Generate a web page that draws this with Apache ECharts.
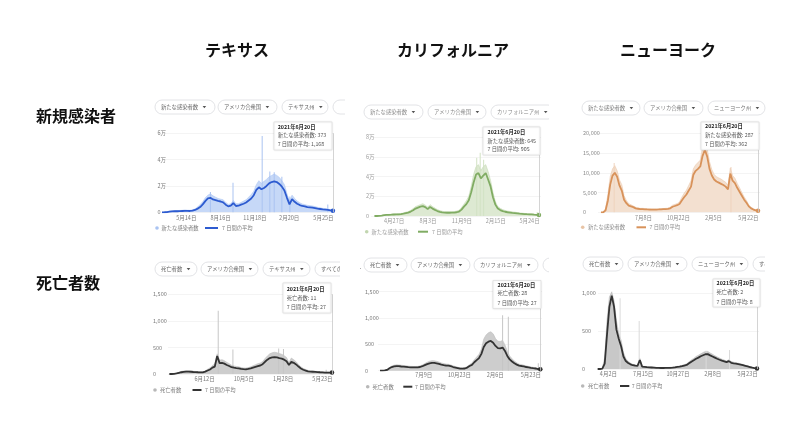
<!DOCTYPE html>
<html><head><meta charset="utf-8">
<script src="https://cdn.jsdelivr.net/npm/echarts@6/dist/echarts.min.js"></script>
<style>html,body{margin:0;padding:0;background:#fff}#c{width:800px;height:427px}</style>
</head><body><div id="c"></div>
<script>
const FONT = '"Noto Sans CJK JP","Noto Sans",sans-serif';

// Weekly points, starting 2020-03-01, last point 2021-06-20
const weekCount = 69;

// ---------- Texas, new cases (thousands) ----------
const txCasesAvg = [0,0,0.05,0.2,0.5,0.7,0.8,0.8,0.9,1.0,
 1.1,1.1,1.0,1.3,1.8,2.8,4.0,6.0,8.5,10.5,
 11.0,9.8,9.2,8.6,8.2,7.5,5.8,4.5,5.0,7.0,
 4.8,5.0,5.8,6.5,7.5,9.0,10.5,13.0,17.0,19.0,
 17.5,18.5,20.0,22.0,23.0,23.5,23.0,21.5,19.5,16.5,
 11.0,6.0,10.0,8.0,6.5,5.5,4.8,4.5,4.0,3.8,
 3.6,3.2,2.8,2.5,2.2,2.0,1.8,1.5,1.168];
const txCasesDaily = [0,0,0.1,0.4,0.9,1.1,1.2,1.3,1.4,1.5,
 1.8,1.6,1.5,1.9,2.6,4.0,6.0,8.0,11.0,13.0,
 14.0,12.5,11.5,10.5,10.0,9.5,7.5,6.0,6.5,9.0,
 6.5,6.5,7.5,8.5,9.5,11.5,13.5,16.0,21.0,24.0,
 22.0,23.5,25.0,27.0,28.0,29.0,28.0,26.5,24.0,21.0,
 14.0,8.5,13.0,10.5,8.5,7.2,6.3,5.8,5.3,5.0,
 4.8,4.3,3.8,3.4,3.0,2.8,2.5,2.0,0.373];
const txCasesSpikes = [['2020-07-19',15.5],['2020-09-19',22.5],['2020-12-08',58],['2020-12-29',31],['2021-01-10',30.5],['2021-01-31',27],['2021-02-22',12],['2021-06-06',6]];
const txCasesTicks = ['2020-05-14','2020-08-16','2020-11-18','2021-02-20','2021-05-25'];

// ---------- California, new cases (thousands) ----------
const caCasesAvg = [0,0,0.1,0.4,0.8,1.1,1.2,1.3,1.5,1.6,
 1.7,1.9,2.3,3.0,3.5,4.5,5.8,7.5,8.5,9.5,
 10.0,9.0,7.0,9.2,7.5,6.2,5.0,4.2,3.7,3.4,
 3.3,3.3,3.4,3.5,3.8,4.5,6.5,9.5,12.0,16.0,
 24.0,34.0,42.0,43.5,38.0,41.0,43.5,37.0,30.0,19.0,
 11.5,7.5,6.0,5.0,4.3,3.8,3.5,3.2,3.0,2.7,
 2.4,2.2,2.0,1.8,1.7,1.6,1.3,1.1,0.905];
const caCasesDaily = [0,0.05,0.2,0.6,1.1,1.5,1.6,1.8,2.0,2.1,
 2.3,2.6,3.0,3.9,4.5,5.8,7.5,9.5,10.5,11.5,
 12.5,11.0,9.0,11.5,9.5,8.0,6.5,5.5,4.8,4.4,
 4.3,4.3,4.4,4.5,5.0,5.8,8.5,12.0,15.5,20.0,
 30.0,42.0,50.0,52.0,46.0,50.0,52.0,45.0,36.0,24.0,
 14.5,9.5,7.8,6.5,5.6,5.0,4.6,4.2,3.9,3.5,
 3.1,2.9,2.6,2.4,2.2,2.1,1.8,1.5,0.645];
const caCasesSpikes = [['2020-12-22',59],['2021-01-01',64],['2021-01-11',57],['2021-06-15',4]];
const caCasesTicks = ['2020-04-27','2020-08-03','2020-11-09','2021-02-15','2021-05-24'];

// ---------- New York, new cases (thousands) ----------
const nyCasesAvg = [0,0,0.5,3.0,7.0,9.3,10.0,9.0,6.8,5.5,
 3.2,2.3,1.7,1.5,1.3,1.0,0.9,0.8,0.8,0.75,
 0.72,0.7,0.7,0.68,0.7,0.72,0.75,0.78,0.8,0.85,
 1.0,1.4,1.6,1.8,2.1,3.0,3.8,4.5,5.5,6.5,
 9.5,10.5,11.0,11.6,14.3,15.8,14.1,11.0,9.3,8.3,
 7.8,7.5,7.2,6.9,6.5,5.8,9.8,8.0,7.4,6.2,
 5.2,4.2,3.2,2.4,1.5,1.0,0.7,0.5,0.362];
const nyCasesDaily = [0,0,1.0,4.5,9.0,11.0,11.8,10.5,8.2,7.0,
 4.2,3.0,2.2,1.9,1.6,1.3,1.1,1.0,1.0,0.95,
 0.9,0.9,0.85,0.85,0.85,0.9,0.9,0.95,1.0,1.05,
 1.3,1.8,2.0,2.2,2.6,3.8,4.8,5.6,6.8,8.0,
 11.0,12.0,12.6,13.2,16.5,17.5,16.0,12.8,10.8,9.6,
 9.0,8.7,8.4,8.0,7.6,6.8,11.2,9.3,8.6,7.3,
 6.2,5.0,3.9,3.0,1.9,1.3,0.9,0.65,0.287];
const nyCasesSpikes = [['2020-04-10',12.5],['2021-03-30',11.5]];
const nyCasesTicks = ['2020-07-08','2020-10-22','2021-02-05','2021-05-22'];

// ---------- Texas, deaths ----------
const txDeathsAvg = [0,0,3,10,22,33,40,44,44,42,
 38,36,33,31,31,45,65,85,120,140,
 340,205,210,195,170,150,128,118,110,105,
 95,90,88,95,105,120,135,150,160,185,
 230,270,300,312,315,312,300,290,270,240,
 170,228,210,180,140,105,80,65,50,44,
 42,40,37,33,30,26,25,27,27];
const txDeathsDaily = [0,0,5,15,32,48,58,62,60,56,
 52,48,44,42,42,60,90,115,160,190,
 380,260,270,250,220,195,165,150,142,135,
 122,115,112,120,135,155,175,195,205,235,
 290,340,380,400,410,400,385,370,345,310,
 215,300,270,230,180,135,105,85,68,58,
 55,52,48,43,40,35,33,35,11];
const txDeathsSpikes = [['2020-07-22',1190],['2020-09-03',460],['2021-01-15',480],['2021-01-29',470],['2021-06-03',80]];
const txDeathsTicks = ['2020-06-12','2020-10-05','2021-01-28','2021-05-23'];

// ---------- California, deaths ----------
const caDeathsAvg = [0,0,5,15,45,70,80,88,85,80,
 76,72,67,63,62,62,63,70,85,105,
 125,140,150,148,139,128,114,105,98,95,
 85,70,60,50,40,38,42,60,90,110,
 160,200,240,320,450,520,551,565,532,470,
 430,425,440,375,280,215,175,140,115,95,
 89,80,70,63,55,48,42,32,27];
const caDeathsDaily = [0,0,8,22,60,90,105,112,110,104,
 98,94,88,82,80,80,82,92,110,135,
 160,180,190,188,178,165,148,136,126,122,
 110,92,80,66,54,52,58,80,118,145,
 210,260,310,410,600,680,720,740,700,610,
 560,555,575,490,365,280,228,182,150,124,
 116,104,92,82,72,63,55,42,28];
const caDeathsSpikes = [['2021-02-28',1055],['2021-03-17',1025],['2021-06-14',140]];
const caDeathsTicks = ['2020-07-09','2020-10-23','2021-02-06','2021-05-23'];

// ---------- New York, deaths ----------
const nyDeathsAvg = [0,0,5,70,460,820,970,820,520,400,
 300,165,105,80,62,50,44,40,119,30,
 27,24,22,20,18,16,14,13,13,14,
 15,16,18,22,27,31,38,46,53,75,
 97,115,135,150,168,182,195,197,180,165,
 150,135,122,110,100,90,104,82,75,70,
 65,58,50,42,34,26,18,12,8];
const nyDeathsDaily = [0,0,10,150,650,950,1020,900,640,470,
 380,220,140,100,78,62,55,50,140,40,
 34,30,28,26,24,21,19,18,18,19,
 20,22,25,30,35,40,48,58,68,95,
 120,140,165,182,200,218,232,232,212,195,
 176,160,145,130,118,106,122,98,90,82,
 77,68,60,50,42,32,23,16,2];
const nyDeathsSpikes = [['2020-05-07',933],['2020-07-03',633],['2021-01-19',242],['2021-03-30',250]];
const nyDeathsTicks = ['2020-04-02','2020-07-15','2020-10-27','2021-02-08','2021-05-23'];

// ---------- texts ----------
const stateNames = ['テキサス','カリフォルニア','ニューヨーク'];
const rowNames = ['新規感染者','死亡者数'];
const tooltipDate = '2021年6月20日';

function parseD(s){ const a = s.split('-').map(Number); return new Date(a[0], a[1]-1, a[2]).getTime(); }
const weekDates = Array.from({length: weekCount}, (_, k) => new Date(2020, 2, 1 + 7*k).getTime());
const fmtDate = v => { const d = new Date(v); return (d.getMonth()+1) + '月' + d.getDate() + '日'; };
const fmtMan = v => v === 0 ? '0' : (v/10) + '万';
const fmtK = v => (v*1000).toLocaleString('en-US');
const fmtN = v => v.toLocaleString('en-US');
const kToN = v => Math.round(v*1000).toLocaleString('en-US');

const blueC  = {line:'#2d5bd0', area:'#c6d8f7', dailyLine:'#adc6f3', spike:'#aac3f1', dot:'#a9c3f2', label:'#7a7a7a', chip:'#666'};
const greenC = {line:'#80ac63', area:'#dde9d2', dailyLine:'#c5dab3', spike:'#d2e2c4', dot:'#c2d6b0', label:'#9a9a9a', chip:'#8a8a8a'};
const orangeC= {line:'#d8925a', area:'#f3e0d0', dailyLine:'#ebc8ab', spike:'#efd3bd', dot:'#e8c4a6', label:'#8a8a8a', chip:'#7a7a7a'};
const grayC  = {line:'#333333', area:'#cdcdcd', dailyLine:'#bdbdbd', spike:'#c6c6c6', dot:'#b8b8b8', label:'#7a7a7a', chip:'#666'};
const grayC2 = {line:'#333333', area:'#c8c8c8', dailyLine:'#bababa', spike:'#dadada', dot:'#b8b8b8', label:'#7a7a7a', chip:'#666'};

const panels = [
 {avg:txCasesAvg, daily:txCasesDaily, spikes:txCasesSpikes, ticks:txCasesTicks, c:blueC,
  grid:{left:163, top:133.3, width:171, height:79}, xMin:'2020-03-11', xMax:'2021-06-23',
  yMax:60, yInt:20, yFmt:fmtMan, ym:5.5, xm:2.5, unitK:true, dailyName:'新たな感染者数',
  chipY:107, chips:[[155,215,'新たな感染者数'],[218,277,'アメリカ合衆国'],[282,328,'テキサス州'],[333,358,'']], cover:[345,14],
  tip:{x:274,y:122,w:58,h:28,tx:277.7,ly:[126.7,135.3,144.3]},
  leg:{cx:157,cy:228,t1:161.5,l1:205,l2:218,t2:222}},
 {avg:caCasesAvg, daily:caCasesDaily, spikes:caCasesSpikes, ticks:caCasesTicks, c:greenC,
  grid:{left:371, top:137, width:170, height:79}, xMin:'2020-02-20', xMax:'2021-06-26',
  yMax:80, yInt:20, yFmt:fmtMan, ym:5, xm:2, unitK:true, dailyName:'新たな感染者数',
  chipY:112, chips:[[364,423,'新たな感染者数'],[428,486,'アメリカ合衆国'],[491,555,'カリフォルニア州']], cover:[549,25],
  tip:{x:483,y:127,w:57,h:28,tx:487.5,ly:[131.7,140.7,149.3]},
  leg:{cx:366.7,cy:231.7,t1:371.5,l1:418,l2:428,t2:432}},
 {avg:nyCasesAvg, daily:nyCasesDaily, spikes:nyCasesSpikes, ticks:nyCasesTicks, c:orangeC,
  grid:{left:598, top:133.3, width:162, height:79}, xMin:'2020-02-21', xMax:'2021-06-26',
  yMax:20, yInt:5, yFmt:fmtK, ym:15, xm:3, unitK:true, dailyName:'新たな感染者数',
  chipY:108, chips:[[582,640,'新たな感染者数'],[644,703,'アメリカ合衆国'],[708,765,'ニューヨーク州']], cover:null,
  tip:{x:701,y:122,w:58,h:28,tx:705,ly:[126,135,144]},
  leg:{cx:582.7,cy:227.3,t1:588,l1:636.5,l2:646,t2:649.5}},
 {avg:txDeathsAvg, daily:txDeathsDaily, spikes:txDeathsSpikes, ticks:txDeathsTicks, c:grayC,
  grid:{left:168, top:294.3, width:165, height:79.7}, xMin:'2020-02-26', xMax:'2021-06-23',
  yMax:1500, yInt:500, yFmt:fmtN, ym:15, xm:2.5, unitK:false, dailyName:'死亡者数',
  chipY:269, chips:[[155,197,'死亡者数'],[201,258,'アメリカ合衆国'],[263,310,'テキサス州'],[315,358,'すべての期間']], cover:[340,20],
  tip:{x:283,y:283,w:48,h:30,tx:286.7,ly:[289,297.7,306.7]},
  leg:{cx:155,cy:390,t1:160,l1:192.5,l2:201.5,t2:205}},
 {avg:caDeathsAvg, daily:caDeathsDaily, spikes:caDeathsSpikes, ticks:caDeathsTicks, c:grayC,
  grid:{left:378, top:291.7, width:164, height:79}, xMin:'2020-02-24', xMax:'2021-06-25',
  yMax:1500, yInt:500, yFmt:fmtN, ym:13, xm:1.5, unitK:false, dailyName:'死亡者数',
  chipY:265, chips:[[364,407,'死亡者数'],[411,470,'アメリカ合衆国'],[474,538,'カリフォルニア州'],[543,572,'']], cover:[549,28],
  tip:{x:493,y:280.5,w:48,h:28,tx:497.5,ly:[284.7,293.3,302.7]},
  leg:{cx:367.7,cy:386.7,t1:372.5,l1:403.3,l2:412.3,t2:415}},
 {avg:nyDeathsAvg, daily:nyDeathsDaily, spikes:nyDeathsSpikes, ticks:nyDeathsTicks, c:grayC2,
  grid:{left:598, top:293.3, width:161, height:75.7}, xMin:'2020-03-02', xMax:'2021-06-26',
  yMax:1000, yInt:500, yFmt:fmtN, ym:16, xm:2.5, unitK:false, dailyName:'死亡者数', clipOff:true,
  chipY:264, chips:[[583,623,'死亡者数'],[628,687,'アメリカ合衆国'],[692,748,'ニューヨーク州'],[753,790,'すべての期間']], cover:[765,35],
  tip:{x:713,y:279,w:47,h:28,tx:716.5,ly:[283.3,292.3,301.7]},
  leg:{cx:582.7,cy:386,t1:588,l1:620,l2:629.3,t2:631.7}}
];

const option = {animation:false, grid:[], xAxis:[], yAxis:[], series:[], graphic:[]};
const G = option.graphic;

function txt(x, y, text, size, color, weight, align){
  return {type:'text', x:x, y:y, z:100, silent:true,
    style:{text:text, fontSize:size, fontFamily:FONT, fontWeight:weight||'normal', fill:color,
      align:align||'left', verticalAlign:'middle'}};
}

panels.forEach((p, i) => {
  option.grid.push(Object.assign({containLabel:false}, p.grid));
  option.xAxis.push({type:'value', gridIndex:i, min:parseD(p.xMin), max:parseD(p.xMax),
    axisLine:{show:false}, axisTick:{show:false}, splitLine:{show:false},
    axisLabel:{customValues:p.ticks.map(parseD), formatter:fmtDate, fontSize:5.5, fontFamily:FONT,
      color:p.c.label, margin:p.xm, hideOverlap:false}});
  option.yAxis.push({type:'value', gridIndex:i, min:0, max:p.yMax, interval:p.yInt,
    axisLine:{show:false}, axisTick:{show:false},
    splitLine:{lineStyle:{color:'#ececec', width:0.6}},
    axisLabel:{align:'left', margin:p.ym, fontSize:5.5, fontFamily:FONT, color:p.c.label, formatter:p.yFmt}});
  const clip = !p.clipOff;
  option.series.push({type:'line', xAxisIndex:i, yAxisIndex:i, silent:true, clip:clip,
    data:p.daily.map((v,k)=>[weekDates[k], v]), symbol:'none', showSymbol:false,
    lineStyle:{color:p.c.dailyLine, width:0.6}, areaStyle:{color:p.c.area, opacity:1}, z:2});
  option.series.push({type:'bar', xAxisIndex:i, yAxisIndex:i, silent:true, clip:clip,
    data:p.spikes.map(s=>[parseD(s[0]), s[1]]), barWidth:1, itemStyle:{color:p.c.spike}, z:3});
  const avgData = p.avg.map((v,k)=>[weekDates[k], v]);
  const last = avgData.length - 1;
  avgData[last] = {value:avgData[last], symbol:'circle', symbolSize:4.5};
  option.series.push({type:'line', xAxisIndex:i, yAxisIndex:i, silent:true, clip:clip,
    data:avgData, symbol:'none', showSymbol:true,
    lineStyle:{color:p.c.line, width:1.8}, itemStyle:{color:p.c.line}, z:4,
    markLine:{silent:true, symbol:'none', label:{show:false}, animation:false,
      lineStyle:{color:'#c9c9c9', width:0.8, type:'solid'}, data:[{xAxis:weekDates[last]}]}});

  // filter chips
  p.chips.forEach(ch => {
    const x1 = ch[0], x2 = ch[1], yc = p.chipY;
    G.push({type:'rect', z:100, silent:true, shape:{x:x1, y:yc-7, width:x2-x1, height:14, r:7},
      style:{fill:'#fff', stroke:'#dadce0', lineWidth:0.8}});
    if (ch[2]) {
      G.push(txt(x1+6, yc, ch[2], 5.3, p.c.chip));
      const ax = x1 + 6 + ch[2].length*5.3 + 4.5;
      G.push({type:'polygon', z:100, silent:true, shape:{points:[[ax,yc-1],[ax+3.6,yc-1],[ax+1.8,yc+1.3]]},
        style:{fill:'#555'}});
    }
  });
  if (p.cover) {
    G.push({type:'rect', z:101, silent:true, shape:{x:p.cover[0], y:p.chipY-10, width:p.cover[1], height:20}, style:{fill:'#fff'}});
  }

  // static hover tooltip at the last day
  const lastDaily = p.daily[p.daily.length-1], lastAvg = p.avg[p.avg.length-1];
  const f = p.unitK ? kToN : fmtN;
  const t = p.tip;
  G.push({type:'rect', z:100, silent:true, shape:{x:t.x, y:t.y, width:t.w, height:t.h},
    style:{fill:'#fff', stroke:'#dcdcdc', lineWidth:0.6, shadowBlur:2, shadowColor:'rgba(0,0,0,0.12)'}});
  G.push(txt(t.tx, t.ly[0], tooltipDate, 5.3, '#222', 'bold'));
  G.push(txt(t.tx, t.ly[1], p.dailyName + ': ' + f(lastDaily), 5.3, '#555'));
  G.push(txt(t.tx, t.ly[2], '7 日間の平均: ' + f(lastAvg), 5.3, '#555'));

  // legend
  const L = p.leg;
  G.push({type:'circle', z:100, silent:true, shape:{cx:L.cx, cy:L.cy, r:1.8}, style:{fill:p.c.dot}});
  G.push(txt(L.t1, L.cy, p.dailyName, 5.3, p.c.label));
  G.push({type:'line', z:100, silent:true, shape:{x1:L.l1, y1:L.cy, x2:L.l2, y2:L.cy}, style:{stroke:p.c.line, lineWidth:2}});
  G.push(txt(L.t2, L.cy, '7 日間の平均', 5.3, p.c.label));
});

// headers
[237, 453, 668].forEach((x, i) => G.push(txt(x, 50, stateNames[i], 16, '#111', 'bold', 'center')));
[116, 283].forEach((y, i) => G.push(txt(36, y, rowNames[i], 16, '#111', 'bold', 'left')));

const chart = echarts.init(document.getElementById('c'), null, {renderer:'canvas'});
chart.setOption(option);
</script>
</body></html>
